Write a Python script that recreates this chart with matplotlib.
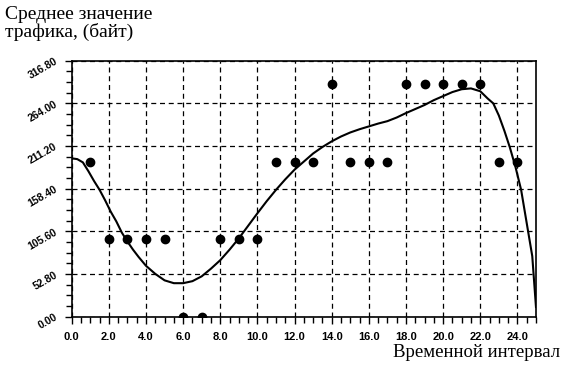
import numpy as np
import matplotlib
matplotlib.use('Agg')
import matplotlib.pyplot as plt
from matplotlib.ticker import MultipleLocator, FixedLocator

# measured traffic, one point per interval
intervals = [1, 2, 3, 4, 5, 6, 7, 8, 9, 10, 11, 12,
             13, 14, 15, 16, 17, 18, 19, 20, 21, 22, 23, 24]
traffic = [192, 96, 96, 96, 96, 0, 0, 96, 96, 96, 192, 192,
           192, 288, 192, 192, 192, 288, 288, 288, 288, 288, 192, 192]

# approximating curve
curve_x = [0.0, 0.3, 0.6, 0.9, 1.2, 1.5, 1.8, 2.1, 2.4, 2.7, 3.0, 3.3, 3.6,
           4.0, 4.5, 5.0, 5.5, 6.0, 6.5, 7.0, 7.5, 8.0, 8.5, 9.0, 9.5, 10.0,
           10.5, 11.0, 11.5, 12.0, 12.5, 13.0, 13.5, 14.0, 14.5, 15.0, 15.5,
           16.0, 16.5, 17.0, 17.5, 18.0, 18.5, 19.0, 19.5, 20.0, 20.5, 21.0,
           21.5, 22.0, 22.4, 22.7, 23.0, 23.3, 23.6, 23.9, 24.2, 24.5, 24.8,
           25.0]
curve_y = [196, 195, 191, 180, 168, 157, 144, 130, 118, 104, 93, 83, 74,
           63, 53, 45, 41.5, 41.5, 44, 50, 59.5, 70, 83, 97, 112.5, 128,
           143, 157, 170, 182, 192, 202, 210, 217, 223, 228, 232,
           235.5, 239, 242, 246.5, 252, 257, 262, 268, 273, 278, 281.5,
           282.5, 279, 270, 264, 249, 230, 209, 185, 157, 116, 75,
           12]

yticks = [0.0, 52.8, 105.6, 158.4, 211.2, 264.0, 316.8]
xticks = np.arange(0, 25, 2)

fig = plt.figure(figsize=(5.63, 3.67), dpi=100)
ax = fig.add_axes([0.1274, 0.137, 0.8246, 0.6976])

ax.plot(curve_x, curve_y, color='black', linewidth=1.5)
ax.plot(intervals, traffic, 'o', color='black', markersize=6)

ax.set_xlim(0, 25)
ax.set_ylim(0, 316.8)

ax.xaxis.set_major_locator(FixedLocator(xticks))
ax.xaxis.set_minor_locator(MultipleLocator(0.5))
ax.yaxis.set_major_locator(FixedLocator(yticks))
ax.yaxis.set_minor_locator(MultipleLocator(13.2))

ax.set_xticklabels(['%.1f' % v for v in xticks], fontsize=8, fontweight='bold',
                   family='Liberation Sans')
ax.set_yticklabels(['%.2f' % v for v in yticks], fontsize=7.5, fontweight='bold',
                   family='Liberation Sans', rotation=30, ha='right', va='center',
                   rotation_mode='anchor')

ax.tick_params(which='major', direction='out', length=5, width=1, color='black')
ax.tick_params(which='minor', direction='out', length=4, width=1, color='black')
ax.tick_params(axis='x', pad=6)
ax.tick_params(axis='y', pad=6)

ax.grid(True, which='major', color='black', linestyle=(0, (4, 3)), linewidth=0.9)
for s in ax.spines.values():
    s.set_linewidth(1.2)

fig.text(0.009, 0.985, 'Среднее значение\nтрафика, (байт)', family='Liberation Serif',
         fontsize=14, va='top', ha='left', linespacing=1.0)
fig.text(0.995, 0.015, 'Временной интервал', family='Liberation Serif',
         fontsize=13.5, va='bottom', ha='right')

fig.savefig('out.png', dpi=100)
